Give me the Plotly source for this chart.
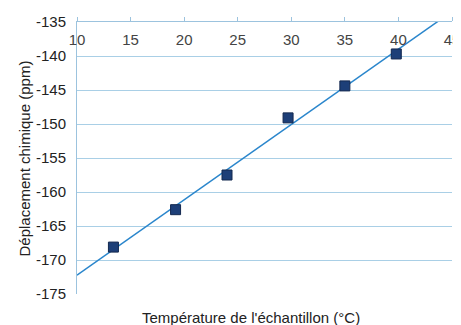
import numpy as np
import plotly.graph_objects as go

temperature = [13.4, 19.2, 24.0, 29.7, 35.0, 39.8]
deplacement = [-168.1, -162.6, -157.5, -149.1, -144.4, -139.7]
x_ticks = [10, 15, 20, 25, 30, 35, 40, 45]
y_ticks = [-135, -140, -145, -150, -155, -160, -165, -170, -175]
y_tick_text = ["-135", "-140", "-145", "-150", "-155", "-160", "-165", "-170", "-175"]

slope, intercept = np.polyfit(temperature, deplacement, 1)
trend_x = [10, 45]
trend_y = [slope * v + intercept for v in trend_x]

fig = go.Figure()
fig.add_trace(go.Scatter(x=trend_x, y=trend_y, mode="lines",
                         line=dict(color="#2a86cc", width=1.5), showlegend=False))
fig.add_trace(go.Scatter(x=temperature, y=deplacement, mode="markers",
                         marker=dict(symbol="square", size=10, color="#1d3f78",
                                     line=dict(color="#13284f", width=1)),
                         showlegend=False))

font = dict(family="Liberation Sans, Arial, sans-serif", size=15, color="#222222")
fig.update_layout(
    width=453, height=317,
    margin=dict(l=69, r=9, t=14, b=31),
    paper_bgcolor="white", plot_bgcolor="white",
    font=font,
    xaxis=dict(range=[10, 45], side="top", tickvals=x_ticks, automargin=False,
               ticklabelposition="inside", ticklabeloverflow="allow",
               ticklabelstandoff=12,
               ticks="outside", ticklen=4,
               tickcolor="#9cc3de", showgrid=False, zeroline=False,
               showline=True, linecolor="#9cc3de", linewidth=1),
    yaxis=dict(range=[-175, -135], tickvals=y_ticks, ticktext=y_tick_text,
               automargin=False, ticklabeloverflow="allow", showgrid=True,
               gridcolor="#a9cfe6", gridwidth=1, zeroline=False,
               showline=True, linecolor="#9cc3de", linewidth=1,
               ticks="", ticklabelstandoff=7),
    annotations=[
        dict(text="Température de l'échantillon (°C)", x=0.464, y=-0.0846,
             xref="paper", yref="paper", showarrow=False,
             xanchor="center", yanchor="middle"),
        dict(text="Déplacement chimique (ppm)", x=-0.1387, y=0.498,
             xref="paper", yref="paper", showarrow=False, textangle=-90,
             xanchor="center", yanchor="middle"),
    ],
)
fig.write_html("out.html")
